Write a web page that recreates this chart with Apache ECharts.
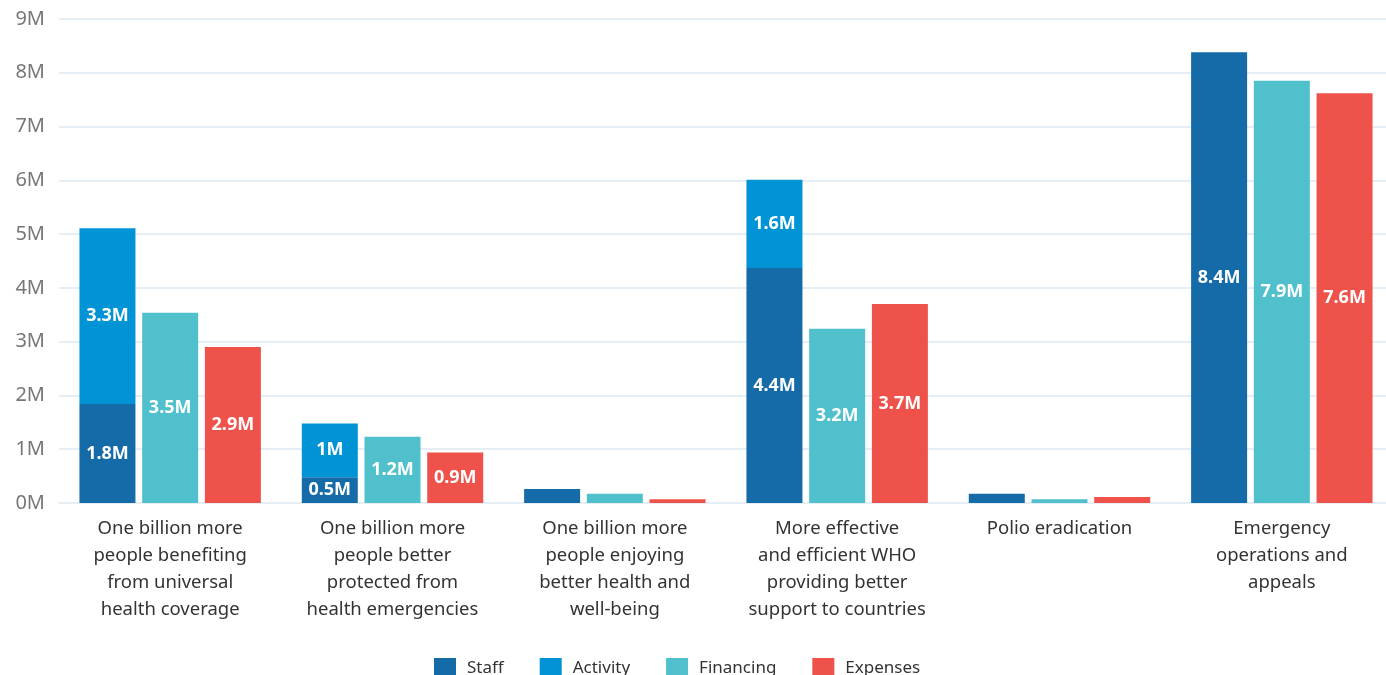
<!DOCTYPE html>
<html><head><meta charset="utf-8">
<script src="https://cdn.jsdelivr.net/npm/echarts@6/dist/echarts.min.js"></script>
<style>html,body{margin:0;padding:0;background:#fff;overflow:hidden}#c{width:1400px;height:675px}</style>
</head><body><div id="c"></div>
<script>
const categories = [
  "One billion more\npeople benefiting\nfrom universal\nhealth coverage",
  "One billion more\npeople better\nprotected from\nhealth emergencies",
  "One billion more\npeople enjoying\nbetter health and\nwell-being",
  "More effective\nand efficient WHO\nproviding better\nsupport to countries",
  "Polio eradication",
  "Emergency\noperations and\nappeals"
];
const staff = [1.84, 0.48, 0.26, 4.37, 0.17, 8.38];
const activity = [3.27, 1.0, 0, 1.64, 0, 0];
const financing = [3.54, 1.23, 0.17, 3.24, 0.07, 7.85];
const expenses = [2.9, 0.94, 0.07, 3.7, 0.11, 7.62];
const yTicks = [0,1,2,3,4,5,6,7,8,9];

const FONT = "Noto Sans";
const colors = ['#156ba7','#0093d5','#50c1cc','#ef524b'];
const lbl = {
  show: true, position: 'inside', color: '#fff', fontWeight: 'bold', fontSize: 18, fontFamily: FONT,
  formatter: p => p.value >= 0.3 ? (Math.round(p.value*10)/10) + 'M' : ''
};
function mk(name, data, stack) {
  const s = { name, type: 'bar', data, barWidth: 56, barGap: '12%', label: lbl };
  if (stack) s.stack = stack;
  return s;
}
const chart = echarts.init(document.getElementById('c'));
chart.setOption({
  animation: false,
  color: colors,
  textStyle: { fontFamily: FONT },
  grid: { left: 59, top: 19, width: 1334, height: 484, containLabel: false },
  legend: {
    left: 429, top: 653, itemWidth: 22, itemHeight: 21, itemGap: 36,
    textStyle: { fontSize: 17, color: '#333', fontFamily: FONT, padding: [0,0,0,6] },
    icon: 'rect',
    data: ['Staff','Activity','Financing','Expenses']
  },
  xAxis: {
    type: 'category', data: categories,
    axisTick: { show: false },
    axisLine: { lineStyle: { color: '#e6eef5', width: 2 } },
    axisLabel: { fontSize: 18.5, color: '#333', lineHeight: 27, margin: 12, fontFamily: FONT, interval: 0 }
  },
  yAxis: {
    type: 'value', min: 0, max: 9, interval: 1,
    axisLabel: { formatter: v => yTicks.includes(v) ? v + 'M' : '', fontSize: 20, color: '#777', margin: 14, fontFamily: FONT },
    splitLine: { lineStyle: { color: '#e6eef5', width: 2 } },
    axisLine: { show: false }, axisTick: { show: false }
  },
  series: [
    mk('Staff', staff, 'a'),
    mk('Activity', activity, 'a'),
    mk('Financing', financing),
    mk('Expenses', expenses)
  ]
});
</script></body></html>
